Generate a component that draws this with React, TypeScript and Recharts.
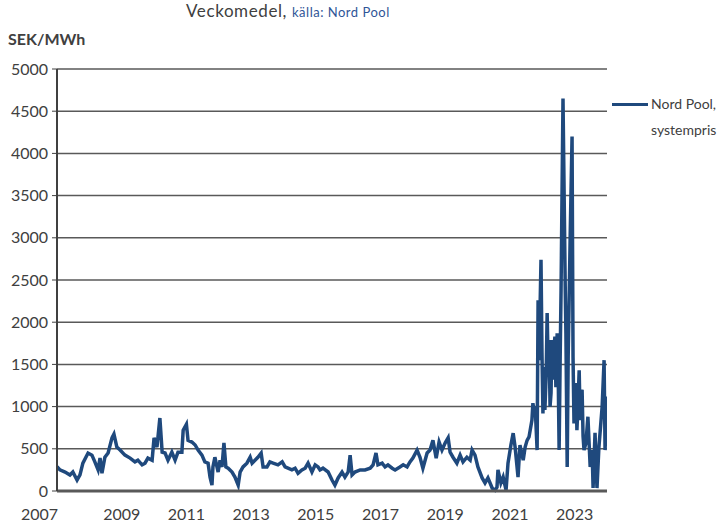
import { LineChart, Line, XAxis, YAxis, CartesianGrid } from 'recharts'

// weekly averages (decimal year, SEK/MWh)
const tA = [2007.0, 2007.09, 2007.25, 2007.4, 2007.49, 2007.62, 2007.71, 2007.8, 2007.96, 2008.08, 2008.17, 2008.27, 2008.33, 2008.39, 2008.48, 2008.58, 2008.7, 2008.76, 2008.85, 2008.95, 2009.1, 2009.26, 2009.41, 2009.5, 2009.63, 2009.72, 2009.81, 2009.94, 2010.0, 2010.09, 2010.18, 2010.25, 2010.34, 2010.43, 2010.55, 2010.65, 2010.74, 2010.86, 2010.9]
const pA = [290, 250, 225, 190, 225, 130, 190, 330, 450, 425, 345, 250, 390, 210, 400, 450, 630, 675, 520, 485, 425, 390, 345, 365, 310, 330, 390, 365, 630, 520, 865, 460, 450, 365, 460, 365, 460, 460, 720]

const tB = [2011.0, 2011.05, 2011.17, 2011.27, 2011.36, 2011.48, 2011.57, 2011.67, 2011.73, 2011.79, 2011.82, 2011.88, 2011.98, 2012.04, 2012.1, 2012.16, 2012.22, 2012.29, 2012.41, 2012.5, 2012.6, 2012.66, 2012.75, 2012.87, 2012.97, 2013.03, 2013.12, 2013.21, 2013.31, 2013.37, 2013.49, 2013.58, 2013.68, 2013.83, 2013.96, 2014.05, 2014.14, 2014.26, 2014.36, 2014.45, 2014.57, 2014.67, 2014.76, 2014.88, 2014.98]
const pB = [790, 600, 580, 545, 485, 425, 345, 330, 165, 70, 285, 400, 225, 365, 285, 570, 285, 270, 225, 165, 70, 225, 285, 330, 400, 330, 365, 400, 450, 285, 285, 345, 330, 310, 345, 285, 270, 250, 270, 210, 250, 270, 330, 225, 310]

const tC = [2015.07, 2015.13, 2015.22, 2015.38, 2015.5, 2015.59, 2015.69, 2015.81, 2015.9, 2016.0, 2016.06, 2016.12, 2016.21, 2016.37, 2016.52, 2016.68, 2016.77, 2016.86, 2016.92, 2017.05, 2017.14, 2017.23, 2017.36, 2017.45, 2017.6, 2017.7, 2017.82, 2017.91, 2018.0, 2018.13, 2018.22, 2018.31, 2018.44, 2018.53, 2018.62, 2018.72, 2018.81, 2018.9, 2019.0]
const pC = [285, 250, 270, 225, 130, 70, 155, 225, 165, 225, 425, 190, 225, 250, 250, 270, 310, 450, 310, 330, 285, 310, 270, 250, 285, 310, 285, 345, 390, 485, 400, 270, 450, 485, 600, 390, 580, 485, 570]

const tD = [2019.09, 2019.15, 2019.24, 2019.36, 2019.46, 2019.55, 2019.67, 2019.77, 2019.83, 2019.92, 2020.01, 2020.14, 2020.23, 2020.32, 2020.45, 2020.54, 2020.6, 2020.63, 2020.72, 2020.79, 2020.88, 2020.94, 2021.03, 2021.1, 2021.16, 2021.25, 2021.31, 2021.41, 2021.47]
const pD = [630, 460, 400, 330, 425, 345, 400, 365, 485, 425, 285, 155, 95, 155, 35, 10, 45, 250, 95, 165, 10, 330, 545, 685, 520, 165, 545, 365, 520]

const tE = [2021.53, 2021.59, 2021.68, 2021.71, 2021.74, 2021.78, 2021.84, 2021.87, 2021.9, 2021.96, 2021.99, 2022.02, 2022.05, 2022.08, 2022.12, 2022.15, 2022.18, 2022.21, 2022.24, 2022.27, 2022.3, 2022.33, 2022.36, 2022.39, 2022.42, 2022.46, 2022.49, 2022.52, 2022.55, 2022.58, 2022.64, 2022.71, 2022.73, 2022.77, 2022.8, 2022.86, 2022.92, 2022.95, 2022.98, 2023.01, 2023.04, 2023.07, 2023.1, 2023.14, 2023.17, 2023.2, 2023.23, 2023.26, 2023.29, 2023.35, 2023.41, 2023.48, 2023.54, 2023.57, 2023.63, 2023.69, 2023.75, 2023.85, 2023.91, 2023.94, 2024.0]
const pE = [600, 640, 840, 1040, 960, 1000, 485, 2260, 1550, 2740, 1640, 920, 1470, 960, 1380, 2110, 1500, 1790, 1000, 1160, 1790, 1320, 1700, 1830, 1230, 1870, 1430, 485, 1500, 2380, 4650, 2380, 1870, 285, 1590, 2970, 4200, 1590, 800, 1100, 1280, 720, 1000, 1430, 840, 1150, 1200, 650, 485, 570, 880, 285, 485, 35, 690, 35, 520, 1000, 1550, 485, 1120]

const yearTicks = [2007, 2009, 2011, 2013, 2015, 2017, 2019, 2021, 2023]
const priceTicks = [0, 500, 1000, 1500, 2000, 2500, 3000, 3500, 4000, 4500, 5000]

const toRows = (t: number[], p: number[]) => t.map((year, i) => ({ year, price: p[i] }))
const data = [
  ...toRows(tA, pA),
  ...toRows(tB, pB),
  ...toRows(tC, pC),
  ...toRows(tD, pD),
  ...toRows(tE, pE),
]

const FONT = 'Lato, "Liberation Sans", sans-serif'
const TEXT = '#404040'
const BLUE = '#1F497D'

function YearTick({ x, y, payload }: any) {
  const first = payload.value === 2007
  return (
    <text
      x={first ? x + 1 : x}
      y={y + 27}
      textAnchor={first ? 'end' : 'middle'}
      fontSize={16}
      fontFamily={FONT}
      fill={TEXT}
    >
      {payload.value}
    </text>
  )
}

export default function App() {
  return (
    <div style={{ position: 'absolute', left: 0, top: 0, width: 724, height: 523, background: '#fff' }}>
      <div style={{ position: 'absolute', left: 186, top: 2, fontFamily: FONT, whiteSpace: 'nowrap', lineHeight: '18px' }}>
        <span style={{ fontSize: 17, color: TEXT, letterSpacing: 0.6 }}>Veckomedel, </span>
        <span style={{ fontSize: 13, color: '#2F5597', letterSpacing: 0.5 }}>källa: Nord Pool</span>
      </div>
      <div style={{ position: 'absolute', left: 8, top: 29, fontFamily: FONT, fontSize: 16, fontWeight: 'bold', color: TEXT }}>
        SEK/MWh
      </div>
      <div style={{ position: 'absolute', left: 612, top: 91, fontFamily: FONT, fontSize: 14, color: TEXT, lineHeight: '26px' }}>
        <div style={{ display: 'flex', alignItems: 'center' }}>
          <span style={{ width: 36, height: 3, background: BLUE, display: 'inline-block', marginRight: 3 }} />
          Nord Pool,
        </div>
        <div style={{ paddingLeft: 39 }}>systempris</div>
      </div>
      <LineChart width={724} height={523} data={data} margin={{ top: 69, right: 117, bottom: 2, left: 7 }}>
        <CartesianGrid vertical={false} stroke="#595959" strokeWidth={1.5} />
        <XAxis
          dataKey="year"
          type="number"
          domain={[2007, 2024]}
          ticks={yearTicks}
          allowDataOverflow
          tick={<YearTick />}
          tickLine={false}
          tickSize={0}
          height={30}
          axisLine={{ stroke: '#595959', strokeWidth: 3 }}
        />
        <YAxis
          domain={[0, 5000]}
          ticks={priceTicks}
          width={50}
          tickSize={5}
          tickMargin={4}
          tick={{ fontSize: 16, fontFamily: FONT, fill: TEXT }}
          tickLine={{ stroke: '#404040' }}
          axisLine={{ stroke: '#404040', strokeWidth: 2 }}
        />
        <Line
          type="linear"
          dataKey="price"
          stroke={BLUE}
          strokeWidth={3.5}
          dot={false}
          isAnimationActive={false}
        />
      </LineChart>
    </div>
  )
}
